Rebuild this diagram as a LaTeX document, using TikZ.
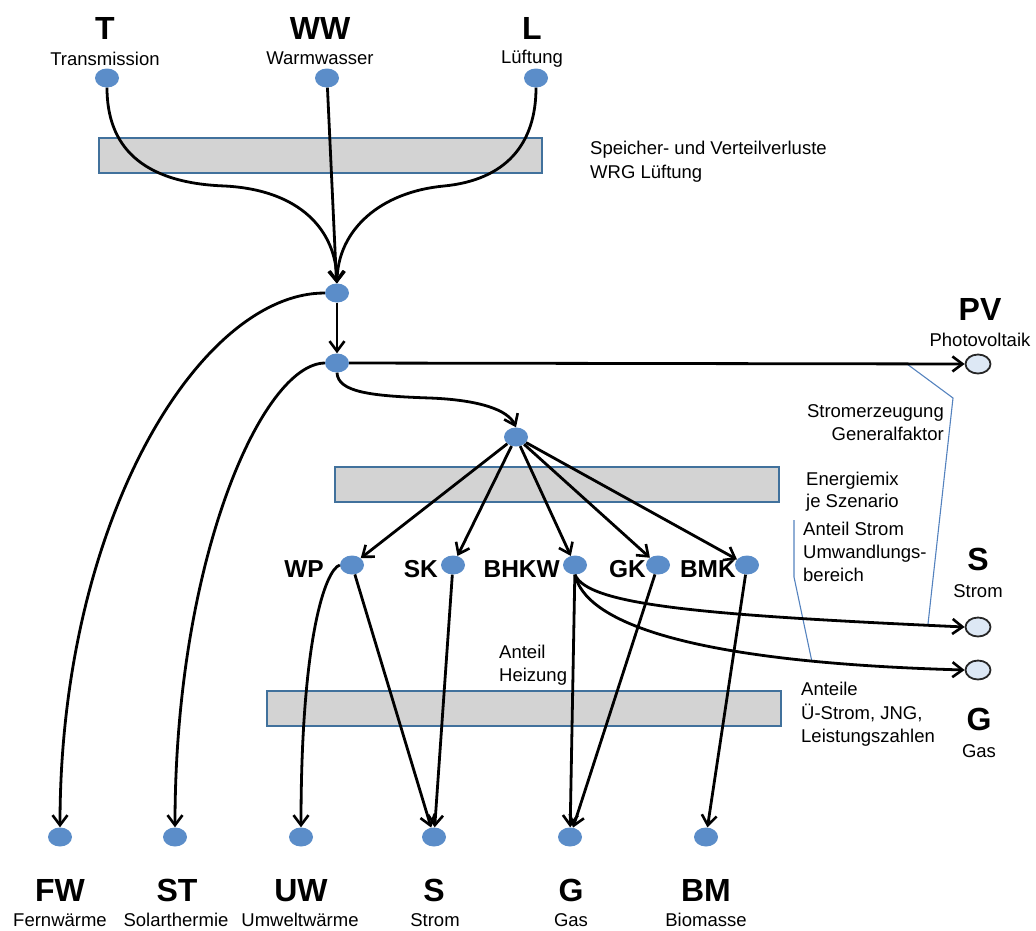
\documentclass[tikz,border=0pt]{standalone}
\usepackage{fontspec}
\setmainfont{Liberation Sans}
\usetikzlibrary{arrows.meta,shapes.geometric}
\definecolor{nodeblue}{RGB}{91,141,201}
\definecolor{boxgray}{RGB}{211,211,211}
\definecolor{boxline}{RGB}{65,113,156}
\definecolor{leaderblue}{RGB}{84,130,190}
\definecolor{lightnode}{RGB}{221,232,245}
\tikzset{
  bluedot/.style={ellipse, fill=nodeblue, minimum width=24pt, minimum height=19pt, inner sep=0pt},
  enddot/.style={ellipse, fill=lightnode, draw=black!85, line width=1.8pt, minimum width=25pt, minimum height=19pt, inner sep=0pt},
  band/.style={fill=boxgray, draw=boxline, line width=1.5pt},
  flow/.style={line width=2.8pt, -{Straight Barb[length=10pt,width=15pt,line width=2.6pt]}},
  biglbl/.style={font=\bfseries\fontsize{32}{32}\selectfont, anchor=base, inner sep=0pt},
  midlbl/.style={font=\bfseries\fontsize{24.5}{24.5}\selectfont, anchor=base east, inner sep=0pt},
  sublbl/.style={font=\fontsize{18.5}{22}\selectfont, anchor=base, inner sep=0pt},
  notel/.style={font=\fontsize{18.5}{22}\selectfont, anchor=base west, inner sep=0pt},
  noter/.style={font=\fontsize{18.5}{22}\selectfont, anchor=base east, inner sep=0pt},
  leader/.style={draw=leaderblue, line width=1.1pt},
}
\begin{document}
\begin{tikzpicture}[x=1pt,y=-1pt]
\useasboundingbox (0,0) rectangle (1036,930);

% grey bands
\path[band] (99,138) rectangle (542,173);
\path[band] (335,467) rectangle (779,502);
\path[band] (267,691) rectangle (781,726);

% top sources
\node[bluedot] (T) at (107,78) {};
\node[bluedot] (WW) at (327,78) {};
\node[bluedot] (L) at (536,78) {};
\node[biglbl] (Tl) at (105,39) {T};
\node[biglbl] (WWl) at (320,39) {WW};
\node[biglbl] (Ll) at (532,39) {L};
\node[sublbl] (Ts) at (105,65) {Transmission};
\node[sublbl] (WWs) at (320,64) {Warmwasser};
\node[sublbl] (Ls) at (532,63) {Lüftung};

\node[notel] (sp1) at (590,154) {Speicher- und Verteilverluste};
\node[notel] (sp2) at (590,178) {WRG Lüftung};

% inner nodes
\node[bluedot] (N1) at (337,293) {};
\node[bluedot] (N2) at (337,363) {};
\node[bluedot] (N3) at (516,437) {};

% PV, Strom, Gas on the right
\node[enddot] (PVn) at (978,364) {};
\node[enddot] (Sr) at (978,627) {};
\node[enddot] (Gr) at (978,670) {};
\node[biglbl] (PVl) at (980,320) {PV};
\node[sublbl] (PVs) at (980,346) {Photovoltaik};
\node[biglbl] (Srl) at (978,570) {S};
\node[sublbl] (Srs) at (978,597) {Strom};
\node[biglbl] (Grl) at (979,730) {G};
\node[sublbl] (Grs) at (979,757) {Gas};

% right notes
\node[noter] (st1) at (944,417) {Stromerzeugung};
\node[noter] (st2) at (944,440) {Generalfaktor};
\node[notel] (em1) at (806,485) {Energiemix};
\node[notel] (em2) at (806,507) {je Szenario};
\node[notel] (as1) at (803,535) {Anteil Strom};
\node[notel] (as2) at (803,558) {Umwandlungs-};
\node[notel] (as3) at (803,581) {bereich};
\node[notel] (an1) at (801,695) {Anteile};
\node[notel] (an2) at (801,719) {Ü-Strom, JNG,};
\node[notel] (an3) at (801,742) {Leistungszahlen};
\node[notel] (ah1) at (499,658) {Anteil};
\node[notel] (ah2) at (499,681) {Heizung};

% converters
\node[bluedot] (WP) at (352,565) {};
\node[bluedot] (SK) at (453,565) {};
\node[bluedot] (BHKW) at (575,565) {};
\node[bluedot] (GK) at (658,565) {};
\node[bluedot] (BMK) at (747,565) {};
\node[midlbl] (WPl) at (324,577) {WP};
\node[midlbl] (SKl) at (438,577) {SK};
\node[midlbl] (BHKWl) at (560,577) {BHKW};
\node[midlbl] (GKl) at (646,577) {GK};
\node[midlbl] (BMKl) at (736,577) {BMK};

% bottom carriers
\node[bluedot] (FW) at (60,837) {};
\node[bluedot] (ST) at (175,837) {};
\node[bluedot] (UW) at (301,837) {};
\node[bluedot] (Sb) at (434,837) {};
\node[bluedot] (Gb) at (570,837) {};
\node[bluedot] (BM) at (706,837) {};
\node[biglbl] (FWl) at (60,901) {FW};
\node[biglbl] (STl) at (177,901) {ST};
\node[biglbl] (UWl) at (301,901) {UW};
\node[biglbl] (Sbl) at (434,901) {S};
\node[biglbl] (Gbl) at (571,901) {G};
\node[biglbl] (BMl) at (706,901) {BM};
\node[sublbl] (FWs) at (60,926) {Fernwärme};
\node[sublbl] (STs) at (176,926) {Solarthermie};
\node[sublbl] (UWs) at (300,926) {Umweltwärme};
\node[sublbl] (Sbs) at (435,926) {Strom};
\node[sublbl] (Gbs) at (571,926) {Gas};
\node[sublbl] (BMs) at (706,926) {Biomasse};

% leader lines
\coordinate (la1) at (907,364);
\coordinate (la2) at (953,398);
\coordinate (la3) at (928,624);
\coordinate (lb1) at (794,520);
\coordinate (lb2) at (794,577);
\coordinate (lb3) at (812,662);
\draw[leader] (la1) -- (la2) -- (la3);
\draw[leader] (lb1) -- (lb2) -- (lb3);

% flows top
\draw[flow] (T.south) .. controls (107,145) and (140,183) .. (225,186) .. controls (300,190) and (336,230) .. (N1.north);
\draw[flow] (L.south) .. controls (536,145) and (505,180) .. (444,186) .. controls (380,192) and (338,230) .. (N1.north);
\draw[flow] (WW) -- (N1);
\draw[flow] (N1) -- (N2);
\draw[flow] (N2) -- (PVn);
\draw[flow] (N2.south) .. controls (338,392) and (370,396) .. (430,398) .. controls (480,400) and (508,410) .. (N3.north);
\draw[flow] (N1.west) .. controls (200,293) and (60,520) .. (FW.north);
\draw[flow] (N2.west) .. controls (262,364) and (175,560) .. (ST.north);

% N3 to converters
\draw[flow] (N3) -- (WP);
\draw[flow] (N3) -- (SK);
\draw[flow] (N3) -- (BHKW);
\draw[flow] (N3) -- (GK);
\draw[flow] (N3) -- (BMK);

% converters to carriers
\draw[flow] (WP.west) .. controls (325,570) and (301,640) .. (UW.north);
\draw[flow] (WP) -- (Sb);
\draw[flow] (SK) -- (Sb);
\draw[flow] (BHKW) -- (Gb);
\draw[flow] (GK) -- (Gb);
\draw[flow] (BMK) -- (BM);
\draw[flow] (BHKW.south) .. controls (588,605) and (700,615) .. (Sr.west);
\draw[flow] (BHKW.south) .. controls (585,620) and (680,662) .. (Gr.west);
\end{tikzpicture}
\end{document}
